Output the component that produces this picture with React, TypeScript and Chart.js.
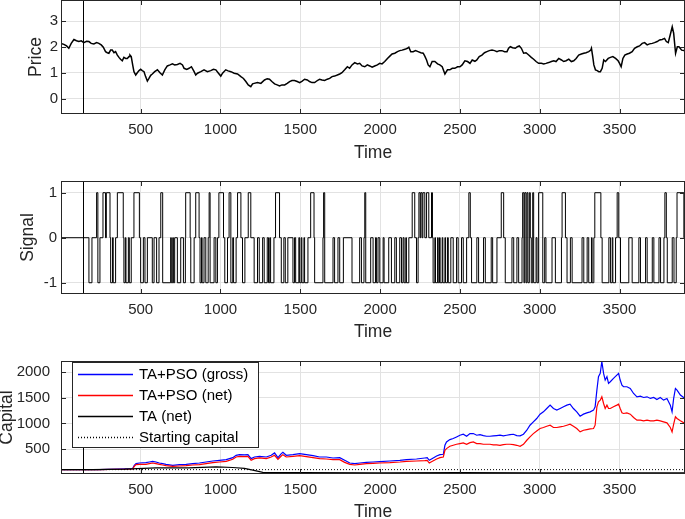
import React, { useEffect, useRef } from 'react';
import { Chart, registerables } from 'chart.js';

Chart.register(...registerables);

// ---------- data ----------
const X_MIN = 1;
const X_MAX = 3910;
const SPLIT_T = 140;

const X_TICKS = [500, 1000, 1500, 2000, 2500, 3000, 3500];
const PRICE_TICKS = [0, 1, 2, 3];
const SIGNAL_TICKS = [-1, 0, 1];
const CAPITAL_TICKS = [500, 1000, 1500, 2000];

const PRICE_T = [1, 19, 36, 50, 65, 82, 98, 113, 128, 144, 161, 176, 190, 207, 224, 238, 253, 266, 280, 291, 301, 312, 322, 333, 343, 354, 364, 374, 385, 395, 406, 416, 427, 433, 441, 450, 458, 469, 479, 490, 500, 510, 521, 531, 542, 552, 563, 573, 588, 605, 621, 636, 651, 667, 684, 699, 713, 730, 747, 762, 772, 789, 803, 818, 835, 845, 856, 877, 897, 918, 939, 956, 971, 985, 1002, 1013, 1033, 1048, 1065, 1086, 1107, 1128, 1144, 1159, 1174, 1190, 1201, 1211, 1232, 1253,
  1276, 1293, 1307, 1322, 1339, 1355, 1370, 1385, 1402, 1418, 1433, 1448, 1464, 1481, 1496, 1510, 1527, 1544, 1558, 1573, 1590, 1607, 1621, 1636, 1653, 1669, 1684, 1699, 1715, 1732, 1747, 1761, 1778, 1795, 1809, 1824, 1841, 1858, 1872, 1887, 1904, 1920, 1935, 1950, 1966, 1983, 1998, 2012, 2029, 2046, 2061, 2075, 2092, 2109, 2123, 2138, 2155, 2171, 2180, 2192, 2207, 2222, 2238, 2255, 2270, 2280, 2291, 2301, 2312, 2326, 2343, 2360, 2374, 2389, 2406, 2422, 2437, 2452, 2468, 2485, 2500, 2514, 2531, 2548, 2563, 2577, 2594,
  2606, 2621, 2638, 2654, 2669, 2684, 2701, 2717, 2732, 2747, 2763, 2780, 2795, 2805, 2816, 2830, 2847, 2860, 2872, 2885, 2899, 2914, 2931, 2947, 2962, 2977, 2993, 3010, 3025, 3039, 3056, 3073, 3088, 3102, 3119, 3136, 3150, 3165, 3182, 3198, 3213, 3228, 3244, 3261, 3276, 3290, 3307, 3320, 3324, 3332, 3339, 3349, 3360, 3370, 3380, 3391, 3401, 3412, 3429, 3443, 3458, 3475, 3491, 3500, 3510, 3521, 3533, 3548, 3562, 3579, 3594, 3611, 3625, 3642, 3657, 3673, 3688, 3705, 3719, 3736, 3751, 3767, 3782, 3793, 3805, 3820, 3830, 3839, 3847, 3851, 3862, 3872, 3889, 3910];
const PRICE_V = [2.14, 2.10, 2.04, 1.95, 2.14, 2.29, 2.24, 2.21, 2.24, 2.17, 2.22, 2.21, 2.14, 2.12, 2.17, 2.14, 2.08, 1.99, 1.82, 1.78, 1.76, 1.88, 1.88, 1.78, 1.82, 1.69, 1.60, 1.53, 1.47, 1.60, 1.56, 1.56, 1.63, 1.69, 1.63, 1.31, 1.05, 0.92, 1.01, 1.09, 1.14, 1.09, 1.05, 0.86, 0.69, 0.79, 0.91, 0.96, 1.05, 1.12, 1.01, 0.92, 1.12, 1.27, 1.31, 1.35, 1.31, 1.33, 1.37, 1.31, 1.18, 1.14, 1.18, 1.24, 1.05, 0.92, 0.99, 1.05, 1.12, 1.05, 1.09, 1.14, 1.12, 1.01, 0.88, 0.99, 1.12, 1.08, 1.05, 0.99, 0.96, 0.86, 0.79, 0.67, 0.54, 0.47, 0.58, 0.60, 0.63, 0.60,
  0.73, 0.78, 0.76, 0.67, 0.58, 0.54, 0.50, 0.54, 0.54, 0.60, 0.67, 0.71, 0.71, 0.67, 0.63, 0.68, 0.76, 0.73, 0.67, 0.63, 0.63, 0.71, 0.76, 0.73, 0.71, 0.76, 0.79, 0.86, 0.88, 0.92, 0.96, 1.01, 1.12, 1.24, 1.18, 1.31, 1.40, 1.35, 1.37, 1.27, 1.24, 1.31, 1.27, 1.22, 1.27, 1.31, 1.37, 1.35, 1.44, 1.56, 1.65, 1.73, 1.76, 1.82, 1.86, 1.88, 1.91, 1.95, 1.99, 1.82, 1.82, 1.86, 1.82, 1.78, 1.76, 1.65, 1.50, 1.31, 1.24, 1.44, 1.44, 1.35, 1.31, 1.24, 0.96, 1.12, 1.12, 1.18, 1.18, 1.24, 1.24, 1.31, 1.47, 1.44, 1.37, 1.50, 1.45,
  1.50, 1.63, 1.69, 1.78, 1.82, 1.86, 1.88, 1.86, 1.82, 1.86, 1.86, 1.82, 1.82, 1.95, 2.01, 1.97, 1.95, 2.01, 2.04, 1.95, 1.76, 1.78, 1.69, 1.60, 1.53, 1.44, 1.37, 1.37, 1.35, 1.37, 1.40, 1.44, 1.47, 1.44, 1.56, 1.50, 1.44, 1.47, 1.53, 1.44, 1.47, 1.56, 1.69, 1.73, 1.76, 1.78, 1.82, 1.88, 1.95, 1.63, 1.31, 1.12, 1.09, 1.05, 1.05, 1.18, 1.50, 1.44, 1.56, 1.60, 1.63, 1.56, 1.47, 1.37, 1.24, 1.56, 1.69, 1.73, 1.76, 1.82, 1.95, 2.01, 2.04, 2.14, 2.17, 2.08, 2.12, 2.14, 2.17, 2.21, 2.27, 2.29, 2.33, 2.21, 2.17, 2.53, 2.78, 2.53, 2.01, 1.76, 2.01, 2.01, 1.88, 1.86];

// [time at which the signal changes, new signal value]
const SIGNAL_CHANGES: [number, number][] = [[1,0],[176,-1],[195,0],[224,1],[232,-1],[245,0],[264,1],[280,0],[285,1],[308,0],[312,-1],[324,0],[328,-1],[343,0],[354,1],[391,0],[395,-1],[404,0],[408,-1],[423,0],[429,-1],[441,0],[458,1],[492,0],[500,-1],[517,0],[527,-1],[542,0],[573,-1],[584,0],[600,-1],[615,0],[626,1],[638,-1],[688,0],[692,-1],[701,0],[705,-1],[713,0],[730,-1],[751,0],[768,-1],[780,0],[782,1],[810,0],[814,-1],[835,0],[845,1],[866,0],[872,-1],[881,0],[885,-1],[897,0],[908,-1],[923,0],[929,1],[935,-1],[960,0],[971,-1],[981,0],[990,1],[1019,0],[1027,-1],[1044,0],[1054,1],[1065,-1],[1077,0],[1082,-1],[1098,0],[1107,1],[1128,0],[1138,-1],[1153,0],[1174,1],[1190,0],[1211,-1],[1232,0],[1243,-1],[1264,0],[1274,-1],[1293,0],[1301,-1],[1309,0],[1314,-1],[1335,0],[1345,1],[1370,0],[1381,-1],[1397,0],[1406,-1],[1422,0],[1454,-1],[1464,0],[1471,-1],[1491,0],[1496,-1],[1506,0],[1510,-1],[1523,0],[1527,-1],[1548,0],[1565,1],[1586,0],[1590,-1],[1642,0],[1646,1],[1653,-1],[1705,0],[1715,-1],[1736,0],[1747,-1],[1770,0],[1824,-1],[1872,0],[1883,-1],[1899,0],[1904,1],[1910,-1],[1941,0],[1956,-1],[1971,0],[1977,-1],[1987,0],[1998,-1],[2019,0],[2025,-1],[2054,0],[2071,-1],[2092,0],[2102,-1],[2123,0],[2134,-1],[2144,0],[2150,-1],[2161,0],[2165,-1],[2180,0],[2201,1],[2217,0],[2228,-1],[2238,0],[2243,1],[2251,0],[2255,1],[2263,0],[2268,1],[2280,0],[2291,1],[2305,0],[2322,1],[2328,0],[2332,-1],[2343,0],[2347,-1],[2360,0],[2364,-1],[2372,0],[2376,-1],[2389,0],[2393,-1],[2406,0],[2410,-1],[2422,0],[2427,-1],[2443,0],[2458,-1],[2479,0],[2489,-1],[2510,0],[2521,-1],[2542,0],[2556,1],[2565,0],[2573,-1],[2606,0],[2617,-1],[2648,0],[2659,-1],[2696,0],[2705,-1],[2732,0],[2759,1],[2774,0],[2784,-1],[2826,0],[2837,-1],[2857,0],[2868,-1],[2889,0],[2893,1],[2901,-1],[2906,1],[2914,-1],[2920,1],[2926,-1],[2935,1],[2941,0],[2947,-1],[2956,1],[2962,-1],[2977,0],[2983,-1],[2993,1],[3019,-1],[3031,0],[3039,-1],[3077,0],[3098,-1],[3136,0],[3140,1],[3161,0],[3171,-1],[3192,0],[3203,-1],[3265,0],[3276,-1],[3297,0],[3307,-1],[3324,0],[3328,-1],[3339,0],[3345,1],[3383,0],[3391,-1],[3433,0],[3443,-1],[3454,0],[3458,-1],[3475,0],[3485,1],[3495,0],[3506,-1],[3558,0],[3579,-1],[3621,0],[3631,-1],[3663,0],[3673,-1],[3705,0],[3715,-1],[3747,0],[3757,-1],[3778,0],[3784,1],[3793,0],[3799,-1],[3830,0],[3841,-1],[3855,0],[3860,1],[3903,0]];

const CAP_T = [1, 140, 241, 450, 460, 471, 492, 533, 554, 575, 596, 617, 638, 659, 701, 743, 785, 826, 868, 910, 952, 994, 1036, 1077, 1098, 1119, 1151, 1172, 1192, 1213, 1245, 1287, 1318, 1339, 1360, 1381, 1391, 1412, 1454, 1496, 1538, 1580, 1621, 1663, 1705,
  1747, 1778, 1810, 1841, 1873, 1914, 1956, 1998, 2061, 2124, 2165, 2228, 2280, 2295, 2308, 2322, 2354,
  2375, 2396, 2406, 2416, 2437, 2458, 2479, 2500, 2521, 2542, 2563, 2584, 2605, 2626, 2647, 2667, 2688, 2709, 2730, 2751, 2772, 2793, 2814, 2835, 2856, 2877, 2898, 2919, 2939, 2960, 2981, 3002, 3023, 3044, 3065, 3086, 3107, 3128, 3149, 3170, 3190, 3211, 3232, 3253, 3274, 3295, 3316, 3337, 3347, 3358, 3368, 3379, 3389, 3400, 3410, 3421, 3431, 3442, 3462, 3483, 3494, 3504, 3515, 3525, 3546, 3567, 3588, 3609, 3630, 3651, 3672, 3693, 3714, 3734, 3755, 3776, 3797, 3818, 3829, 3839, 3850, 3860, 3881, 3910];
const CAP_GROSS = [100, 100, 102, 120, 184, 216, 229, 236, 249, 262, 249, 229, 216, 203, 184, 197, 203, 216, 229, 249, 268, 281, 294, 333, 379, 392, 386, 392, 314, 346, 359, 346, 379, 425, 333, 412, 438, 379, 392, 412, 392, 373, 346, 346, 327,
  333, 281, 229, 216, 229, 242, 249, 255, 268, 281, 294, 307, 327, 333, 281, 307, 366,
  392, 399, 574, 639, 685, 705, 737, 770, 789, 750, 802, 802, 770, 783, 763, 750, 750, 757, 763, 770, 757, 770, 783, 789, 763, 757, 789, 867, 965, 1030, 1095, 1180, 1225, 1290, 1356, 1290, 1258, 1290, 1323, 1356, 1375, 1290, 1225, 1141, 1180, 1206, 1225, 1258, 1323, 1649, 1909, 1974, 2205, 1974, 1844, 1909, 1779, 1811, 1876, 1941, 1974, 1844, 1746, 1714, 1714, 1681, 1583, 1518, 1531, 1505, 1518, 1486, 1505, 1466, 1505, 1453, 1486, 1356, 1225, 1486, 1681, 1649, 1551, 1486];
const CAP_NET = [100, 100, 101, 112, 164, 197, 203, 203, 216, 229, 216, 203, 190, 177, 164, 171, 177, 190, 197, 216, 236, 249, 262, 301, 346, 359, 353, 359, 281, 314, 327, 314, 346, 379, 301, 366, 392, 346, 359, 373, 353, 333, 314, 307, 294,
  294, 242, 203, 190, 203, 216, 223, 229, 236, 249, 262, 268, 275, 281, 229, 255, 307,
  333, 346, 477, 509, 555, 574, 594, 607, 620, 594, 626, 639, 607, 607, 594, 594, 594, 581, 581, 574, 587, 594, 594, 587, 574, 555, 594, 672, 737, 802, 854, 900, 920, 945, 965, 920, 920, 932, 945, 965, 984, 945, 900, 835, 867, 880, 893, 900, 965, 1323, 1421, 1453, 1518, 1388, 1290, 1356, 1290, 1290, 1323, 1356, 1375, 1290, 1206, 1193, 1206, 1180, 1115, 1063, 1063, 1050, 1063, 1050, 1050, 1063, 1050, 1030, 1011, 920, 835, 984, 1128, 1095, 1050, 998];
const TA_T = [1, 200, 400, 596, 800, 973, 1077, 1150, 1203, 1265, 1300, 1500, 2000, 2500, 3000, 3500, 3910];
const TA_NET = [100, 100, 110, 135, 135, 155, 142, 125, 90, 45, 40, 42, 38, 40, 38, 35, 35];
const STARTING_CAPITAL = 100;

const SERIES_LABELS = ['TA+PSO (gross)', 'TA+PSO (net)', 'TA (net)', 'Starting capital'];
const SERIES_COLORS = ['#0000ff', '#ff0000', '#000000', '#000000'];

// ---------- styling ----------
const FONT = "'Liberation Sans', Arial, Helvetica, sans-serif";
const TEXT = '#262626';
const GRID = '#e2e2e2';
const BOX = '#262626';

const pts = (ts: number[], vs: number[]) => ts.map((t, i) => ({ x: t, y: vs[i] }));

const framePlugin = {
  id: 'matlabFrame',
  afterDatasetsDraw(chart: any) {
    const { ctx, chartArea, scales } = chart;
    const { left, right, top, bottom } = chartArea;
    const x = scales.x;
    const y = scales.y;
    ctx.save();
    ctx.strokeStyle = '#000';
    ctx.lineWidth = 1;
    const sx = Math.round(x.getPixelForValue(SPLIT_T)) + 0.5;
    ctx.beginPath();
    ctx.moveTo(sx, top);
    ctx.lineTo(sx, bottom);
    ctx.stroke();
    ctx.strokeStyle = BOX;
    ctx.strokeRect(left + 0.5, top + 0.5, right - left - 1, bottom - top - 1);
    const TL = 5;
    ctx.beginPath();
    x.ticks.forEach((t: any) => {
      const px = Math.round(x.getPixelForValue(t.value)) + 0.5;
      ctx.moveTo(px, bottom); ctx.lineTo(px, bottom - TL);
      ctx.moveTo(px, top); ctx.lineTo(px, top + TL);
    });
    y.ticks.forEach((t: any) => {
      const py = Math.round(y.getPixelForValue(t.value)) + 0.5;
      ctx.moveTo(left, py); ctx.lineTo(left + TL, py);
      ctx.moveTo(right, py); ctx.lineTo(right - TL, py);
    });
    ctx.stroke();
    ctx.restore();
  },
};

const boxLegendPlugin = {
  id: 'boxLegend',
  afterDraw(chart: any) {
    const { ctx, chartArea } = chart;
    const left = chartArea.left + 11;
    const top = chartArea.top + 1;
    const w = 187;
    const h = 86;
    ctx.save();
    ctx.fillStyle = '#fff';
    ctx.fillRect(left, top, w, h);
    ctx.strokeStyle = BOX;
    ctx.lineWidth = 1;
    ctx.strokeRect(left + 0.5, top + 0.5, w - 1, h - 1);
    SERIES_LABELS.forEach((label, i) => {
      const ds = chart.data.datasets[i] || {};
      const yy = Math.round(top + 12 + i * 21) + 0.5;
      ctx.strokeStyle = SERIES_COLORS[i];
      ctx.lineWidth = 1.3;
      ctx.setLineDash(ds.borderDash || []);
      ctx.beginPath();
      ctx.moveTo(left + 6, yy);
      ctx.lineTo(left + 61, yy);
      ctx.stroke();
      ctx.setLineDash([]);
      ctx.fillStyle = '#000';
      ctx.font = `15px ${FONT}`;
      ctx.textBaseline = 'middle';
      ctx.textAlign = 'left';
      ctx.fillText(label, left + 67, yy);
    });
    ctx.restore();
  },
};

type Panel = {
  datasets: any[];
  yMin: number;
  yMax: number;
  yTicks: number[];
  yTitle: string;
  padTop: number;
  xAxisH: number;
  xTitlePad: number;
  yTitlePad: number;
  yTickPad: number;
  plugins: any[];
};

function makeConfig(p: Panel): any {
  return {
    type: 'line',
    data: { datasets: p.datasets },
    plugins: p.plugins,
    options: {
      animation: false,
      responsive: false,
      maintainAspectRatio: false,
      events: [],
      layout: { padding: { top: p.padTop, right: 0, bottom: 0, left: 0 } },
      plugins: { legend: { display: false }, tooltip: { enabled: false } },
      elements: { point: { radius: 0 }, line: { tension: 0 } },
      scales: {
        x: {
          type: 'linear',
          min: X_MIN,
          max: X_MAX,
          afterBuildTicks: (s: any) => { s.ticks = X_TICKS.map((v) => ({ value: v })); },
          afterFit: (s: any) => {
            s.height = p.xAxisH;
            s.paddingLeft = 0; s.paddingRight = 0;
          },
          grid: { color: GRID, drawTicks: false, lineWidth: 1 },
          border: { display: false },
          ticks: {
            autoSkip: false,
            maxRotation: 0,
            padding: 7,
            color: TEXT,
            font: { family: FONT, size: 15 },
            callback: (v: number) => String(v),
          },
          title: {
            display: true,
            text: 'Time',
            color: TEXT,
            font: { family: FONT, size: 17.5, lineHeight: '14px' },
            padding: { top: 0, bottom: p.xTitlePad },
          },
        },
        y: {
          type: 'linear',
          min: p.yMin,
          max: p.yMax,
          afterBuildTicks: (s: any) => { s.ticks = p.yTicks.map((v) => ({ value: v })); },
          afterFit: (s: any) => {
            s.width = 61;
            s.paddingTop = 0; s.paddingBottom = 0;
          },
          grid: { color: GRID, drawTicks: false, lineWidth: 1 },
          border: { display: false },
          ticks: {
            autoSkip: false,
            padding: p.yTickPad,
            color: TEXT,
            font: { family: FONT, size: 15 },
            callback: (v: number) => String(v),
          },
          title: {
            display: true,
            text: p.yTitle,
            color: TEXT,
            font: { family: FONT, size: 17.5, lineHeight: '14px' },
            padding: { top: p.yTitlePad, bottom: 0 },
          },
        },
      },
    },
  };
}

export default function App() {
  const r1 = useRef<HTMLCanvasElement>(null);
  const r2 = useRef<HTMLCanvasElement>(null);
  const r3 = useRef<HTMLCanvasElement>(null);

  useEffect(() => {
    const signalPts = SIGNAL_CHANGES.map(([t, v]) => ({ x: t, y: v }));
    signalPts.push({ x: X_MAX, y: SIGNAL_CHANGES[SIGNAL_CHANGES.length - 1][1] });

    const c1 = new Chart(r1.current as HTMLCanvasElement, makeConfig({
      datasets: [{ label: 'Price', data: pts(PRICE_T, PRICE_V), borderColor: '#000', borderWidth: 1.5, pointRadius: 0 }],
      yMin: -0.58, yMax: 3.81, yTicks: PRICE_TICKS, yTitle: 'Price',
      padTop: 0, xAxisH: 61, xTitlePad: 14.8, yTitlePad: 28.7, yTickPad: 3,
      plugins: [framePlugin],
    }));
    const c2 = new Chart(r2.current as HTMLCanvasElement, makeConfig({
      datasets: [{ label: 'Signal', data: signalPts, borderColor: '#000', borderWidth: 1, pointRadius: 0, stepped: 'before' }],
      yMin: -1.25, yMax: 1.26, yTicks: SIGNAL_TICKS, yTitle: 'Signal',
      padTop: 6, xAxisH: 51, xTitlePad: 5.8, yTitlePad: 21.1, yTickPad: 4,
      plugins: [framePlugin],
    }));
    const c3 = new Chart(r3.current as HTMLCanvasElement, makeConfig({
      datasets: [
        { label: SERIES_LABELS[0], data: pts(CAP_T, CAP_GROSS), borderColor: SERIES_COLORS[0], borderWidth: 1.2, pointRadius: 0, order: 4 },
        { label: SERIES_LABELS[1], data: pts(CAP_T, CAP_NET), borderColor: SERIES_COLORS[1], borderWidth: 1.2, pointRadius: 0, order: 3 },
        { label: SERIES_LABELS[2], data: pts(TA_T, TA_NET), borderColor: SERIES_COLORS[2], borderWidth: 1.2, pointRadius: 0, order: 2 },
        { label: SERIES_LABELS[3], data: [{ x: X_MIN, y: STARTING_CAPITAL }, { x: X_MAX, y: STARTING_CAPITAL }], borderColor: SERIES_COLORS[3], borderWidth: 1, borderDash: [1, 2], pointRadius: 0, order: 1 },
      ],
      yMin: 15, yMax: 2215, yTicks: CAPITAL_TICKS, yTitle: 'Capital',
      padTop: 16, xAxisH: 45, xTitlePad: 0, yTitlePad: 0, yTickPad: 11,
      plugins: [framePlugin, boxLegendPlugin],
    }));
    return () => { c1.destroy(); c2.destroy(); c3.destroy(); };
  }, []);

  return (
    <div style={{ position: 'absolute', left: 0, top: 0, width: 685, height: 519, background: '#fff' }}>
      <canvas ref={r1} width={685} height={175} style={{ position: 'absolute', left: 0, top: 0 }} />
      <canvas ref={r2} width={685} height={170} style={{ position: 'absolute', left: 0, top: 175 }} />
      <canvas ref={r3} width={685} height={174} style={{ position: 'absolute', left: 0, top: 345 }} />
    </div>
  );
}
